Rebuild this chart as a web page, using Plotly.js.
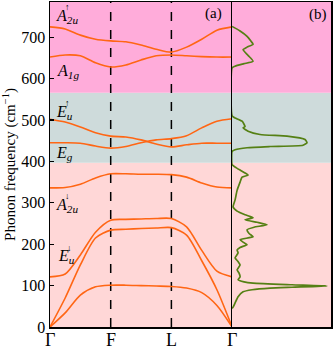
<!DOCTYPE html>
<html>
<head>
<meta charset="utf-8">
<script src="https://cdn.plot.ly/plotly-3.0.1.min.js"></script>
<style>
  body { margin: 0; background: #fff; }
  #plot { width: 334px; height: 349px; }
</style>
</head>
<body>
<div id="plot"></div>
<script>
// path positions along Γ-F-L-Γ, one point every quarter segment
const kPath = [0, 0.25, 0.5, 0.75, 1, 1.25, 1.5, 1.75, 2, 2.25, 2.5, 2.75, 3];
const kTicks = [0, 1, 2, 3];
const kLabels = ['Γ', 'F', 'L', 'Γ'];

// phonon branches (cm^-1)
const bandA2uUp = [725, 720, 705, 695, 691, 689, 681, 671, 664, 676, 695, 717, 725];
const bandA1g   = [652, 657, 655, 638, 628, 633, 645, 655, 657, 655, 653, 652, 652];
const bandEuUp  = [502, 495, 483, 469, 461, 459, 452, 442, 435, 440, 444, 444, 444];
const bandEg    = [445, 445, 444, 437, 432, 436, 445, 452, 455, 462, 481, 497, 503];
const bandA2uDn = [336, 337, 345, 360, 370, 370, 369, 369, 368, 362, 348, 338, 336];
const bandEuDn1 = [121, 128, 174, 229, 258, 260, 261, 262, 262, 242, 185, 135, 121];
const bandEuDn2 = [0, 70, 150, 215, 234, 236, 238, 239, 240, 222, 160, 90, 0];
const bandAcou  = [0, 34, 77, 97, 101, 101, 100, 99, 98, 94, 83, 52, 0];

// phonon DOS (arb. units) vs frequency
const dosFreq = [726, 715, 702, 690, 683, 676, 670, 656, 642, 636, 630, 626, 510,
                 505, 497, 484, 481, 473, 465, 461, 453, 445, 439, 436, 433, 428, 424,
                 392, 385, 379, 372, 367, 362, 350, 330, 307, 290, 280, 271, 264, 259,
                 253, 247, 241, 235, 226, 218, 211, 205, 199, 192, 186, 179, 167, 158,
                 150, 138, 130, 121, 114, 109, 106, 102, 99, 96, 94, 90, 85, 73, 58, 48, 45];
const dosValue = [0, 8, 15, 19, 21, 15, 11, 16, 21, 12, 3, 0, 0,
                  3, 10, 13, 11, 16, 28, 55, 73, 75, 71, 38, 15, 3, 0,
                  0, 4, 8, 13, 16, 10, 8, 5, 3, 1, 5, 13, 21, 13,
                  25, 35, 22, 15, 17, 21, 8, 11, 15, 8, 5, 6, 3, 6,
                  8, 5, 7, 8, 6, 12, 21, 60, 95, 60, 38, 20, 11, 6, 3, 1, 0];

// background regions (cm^-1)
const regionEdges = [0, 397, 566, 785];
const regionColors = ['rgb(255,215,215)', 'rgb(206,219,219)', 'rgb(255,172,218)'];

const bandColor = 'rgb(255,102,20)';
const dosColor = 'rgb(85,128,20)';
const serif = 'Liberation Serif, Times New Roman, serif';

const bands = [bandA2uUp, bandA1g, bandEuUp, bandEg, bandA2uDn, bandEuDn1, bandEuDn2, bandAcou];
const traces = bands.map(b => ({
    x: kPath, y: b,
    xaxis: 'x', yaxis: 'y',
    mode: 'lines', type: 'scatter',
    line: {color: bandColor, width: 1.6, shape: 'spline', smoothing: 0.75},
    hoverinfo: 'skip'
}));
traces.push({
    x: dosValue, y: dosFreq,
    xaxis: 'x2', yaxis: 'y2',
    mode: 'lines', type: 'scatter',
    line: {color: dosColor, width: 1.7, shape: 'spline', smoothing: 0.5},
    hoverinfo: 'skip'
});

const shapes = [];
for (let i = 0; i < regionColors.length; i++) {
    shapes.push({type: 'rect', xref: 'paper', yref: 'y', x0: 0, x1: 1,
                 y0: regionEdges[i], y1: regionEdges[i + 1],
                 fillcolor: regionColors[i], line: {width: 0}, layer: 'below'});
}
// dashed lines at F and L
[1, 2].forEach(k => {
    shapes.push({type: 'line', xref: 'x', yref: 'paper', x0: k, x1: k, y0: 0, y1: 1,
                 line: {color: 'black', width: 1.5, dash: 'dash'}, layer: 'below'});
});

// branch labels: [symbol, subscript, k, freq, arrow]
const branchLabels = [
    ['A', '2u', 0.06, 751, '↑'],
    ['A', '1g', 0.08, 617, ''],
    ['E', 'u', 0.06, 519, '↑'],
    ['E', 'g', 0.07, 419, ''],
    ['A', '2u', 0.06, 294, '↓'],
    ['E', 'u', 0.1, 170, '↓']
];
const annotations = [];
branchLabels.forEach(([sym, sub, k, f, arr]) => {
    annotations.push({xref: 'x', yref: 'y', x: k, y: f, xanchor: 'left', yanchor: 'middle',
                      text: '<i>' + sym + '</i><sub><i>' + sub + '</i></sub>', showarrow: false,
                      font: {family: serif, size: 16, color: 'black'}});
    if (arr) {
        annotations.push({xref: 'x', yref: 'y', x: k + 0.15, y: f + 22, xanchor: 'left', yanchor: 'middle',
                          text: arr, showarrow: false,
                          font: {family: serif, size: 9, color: 'black'}});
    }
});
annotations.push({xref: 'x', yref: 'y', x: 2.69, y: 758, text: '(a)', showarrow: false,
                  font: {family: serif, size: 15, color: 'black'}});
annotations.push({xref: 'x2', yref: 'y', x: 86, y: 754, text: '(b)', showarrow: false,
                  font: {family: serif, size: 15, color: 'black'}});
// path labels under the axis
kTicks.forEach((k, i) => {
    annotations.push({xref: 'x', yref: 'paper', x: k, y: 0, yshift: -13,
                      xanchor: 'center', yanchor: 'middle', text: kLabels[i], showarrow: false,
                      font: {family: serif, size: 18, color: 'black'}});
});

const layout = {
    width: 334, height: 349,
    margin: {l: 50, r: 3, t: 2, b: 22},
    paper_bgcolor: 'white',
    plot_bgcolor: 'rgba(0,0,0,0)',
    showlegend: false,
    font: {family: serif, color: 'black'},
    xaxis: {domain: [0, 0.648], range: [0, 3], showticklabels: false,
            ticks: '', showgrid: false, zeroline: false, showline: true, mirror: true,
            linecolor: 'black', linewidth: 1.5},
    // right edge of panel (a) comes from yaxis2's line, so no mirror here
    yaxis: {range: [0, 785], tickvals: [0, 100, 200, 300, 400, 500, 600, 700],
            ticks: 'inside', ticklen: 4, tickcolor: 'black', tickwidth: 1.2,
            showgrid: false, zeroline: false, showline: true, mirror: false,
            linecolor: 'black', linewidth: 1.5, tickfont: {family: serif, size: 16},
            title: {text: 'Phonon frequency (cm<sup>−1</sup>)', font: {family: serif, size: 15}, standoff: 4}},
    xaxis2: {domain: [0.648, 1], range: [0, 99], anchor: 'y2', showticklabels: false,
             ticks: '', showgrid: false, zeroline: false, showline: true, mirror: true,
             linecolor: 'black', linewidth: 1.5},
    yaxis2: {matches: 'y', anchor: 'x2', showticklabels: false, ticks: '',
             showgrid: false, zeroline: false, showline: true, mirror: true,
             linecolor: 'black', linewidth: 1.5},
    shapes: shapes,
    annotations: annotations
};

Plotly.newPlot('plot', traces, layout, {staticPlot: true, displayModeBar: false});
</script>
</body>
</html>
